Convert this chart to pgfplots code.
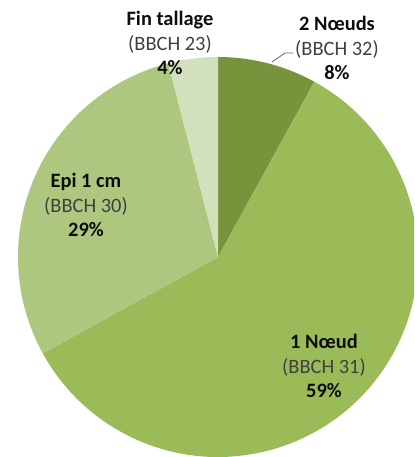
\documentclass[border=0pt]{standalone}
\usepackage{pgfplots}
\pgfplotsset{compat=1.18}
\usepackage{pgfplotstable}
\usepackage{fontspec}
\setmainfont{Carlito}
\definecolor{cA}{HTML}{77933C}
\definecolor{cB}{HTML}{9BBB59}
\definecolor{cC}{HTML}{AEC77F}
\definecolor{cD}{HTML}{D2E0BB}
\definecolor{txtgray}{HTML}{404040}
\pgfplotstableread{
pct
8
59
29
4
}\piedata
\pgfplotstablegetelem{0}{pct}\of\piedata\pgfmathtruncatemacro\pA{\pgfplotsretval}
\pgfplotstablegetelem{1}{pct}\of\piedata\pgfmathtruncatemacro\pB{\pgfplotsretval}
\pgfplotstablegetelem{2}{pct}\of\piedata\pgfmathtruncatemacro\pC{\pgfplotsretval}
\pgfplotstablegetelem{3}{pct}\of\piedata\pgfmathtruncatemacro\pD{\pgfplotsretval}
\pgfmathsetmacro\aA{90}
\pgfmathsetmacro\aB{\aA-3.6*\pA}
\pgfmathsetmacro\aC{\aB-3.6*\pB}
\pgfmathsetmacro\aD{\aC-3.6*\pC}
\pgfmathsetmacro\aE{\aD-3.6*\pD}
\begin{document}
\begin{tikzpicture}
\begin{axis}[
  x=1bp, y=1bp,
  xmin=0, xmax=414, ymin=0, ymax=457,
  axis line style={draw=none},
  xtick=\empty, ytick=\empty,
  clip=true,
]
\fill[cA] (axis cs:218,200) -- ++(\aA:200bp) arc[start angle=\aA, end angle=\aB, radius=200bp] -- cycle;
\fill[cB] (axis cs:218,200) -- ++(\aB:200bp) arc[start angle=\aB, end angle=\aC, radius=200bp] -- cycle;
\fill[cC] (axis cs:218,200) -- ++(\aC:200bp) arc[start angle=\aC, end angle=\aD, radius=200bp] -- cycle;
\fill[cD] (axis cs:218,200) -- ++(\aD:200bp) arc[start angle=\aD, end angle=\aE, radius=200bp] -- cycle;
\draw[gray!80!black, line width=0.8bp] (axis cs:272,395) -- (axis cs:285,404) -- (axis cs:293,404);
\tikzset{lbl/.style={align=center, font=\fontsize{20.5}{25}\selectfont, inner sep=0pt, text=black!95}}
\node[lbl] at (axis cs:170,414) {\textbf{Fin tallage}\\\textcolor{txtgray}{(BBCH 23)}\\\textbf{\pD\%}};
\node[lbl] at (axis cs:337,409) {\textbf{2 Nœuds}\\\textcolor{txtgray}{(BBCH 32)}\\\textbf{\pA\%}};
\node[lbl] at (axis cs:86,252) {\textbf{Epi 1 cm}\\\textcolor{txtgray}{(BBCH 30)}\\\textbf{\pC\%}};
\node[lbl] at (axis cs:324,91) {\textbf{1 Nœud}\\\textcolor{txtgray}{(BBCH 31)}\\\textbf{\pB\%}};
\end{axis}
\end{tikzpicture}
\end{document}
